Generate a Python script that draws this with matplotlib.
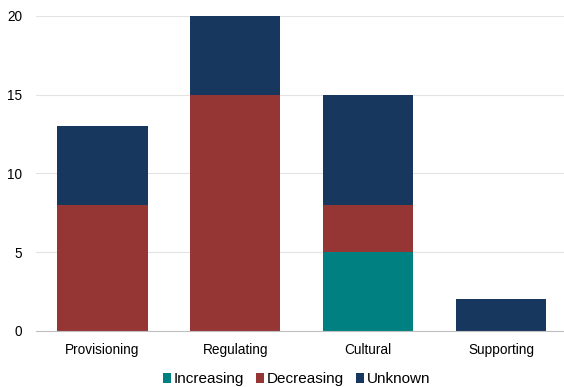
import numpy as np
import matplotlib.pyplot as plt

plt.rcParams['font.family'] = ['Liberation Sans', 'DejaVu Sans']

# Chart data
categories = ['Provisioning', 'Regulating', 'Cultural', 'Supporting']
increasing = [0, 0, 5, 0]
decreasing = [8, 15, 3, 0]
unknown = [5, 5, 7, 2]

series = [('Increasing', increasing, '#008080'),
          ('Decreasing', decreasing, '#963634'),
          ('Unknown', unknown, '#17375E')]

fig = plt.figure(figsize=(5.64, 3.87), dpi=100)
ax = fig.add_axes([0.064, 0.145, 0.942, 0.814])

x = np.arange(len(categories))
bottom = np.zeros(len(categories))
for name, vals, col in series:
  vals = np.array(vals, dtype=float)
  ax.bar(x, vals, width=0.68, bottom=bottom, color=col, label=name, zorder=3)
  bottom += vals

ax.set_xlim(-0.5, len(categories) - 0.5)
ax.set_ylim(0, 20)
ax.set_yticks([0, 5, 10, 15, 20])
ax.set_xticks(x)
ax.set_xticklabels(categories)
ax.tick_params(axis='both', length=0, labelsize=9.8, colors='#000000')
ax.tick_params(axis='y', pad=10)
ax.tick_params(axis='x', pad=9)
ax.yaxis.grid(True, color='#E3E3E3', linewidth=0.8, zorder=0)
for s in ['top', 'right', 'left']:
  ax.spines[s].set_visible(False)
ax.spines['bottom'].set_color('#BFBFBF')
ax.spines['bottom'].set_zorder(4)

ax.legend(loc='lower center', bbox_to_anchor=(0.49, -0.22), ncol=3,
          frameon=False, fontsize=11, handlelength=0.55, handleheight=0.55,
          handletextpad=0.15, columnspacing=0.8)

fig.savefig('out.png', dpi=100)
